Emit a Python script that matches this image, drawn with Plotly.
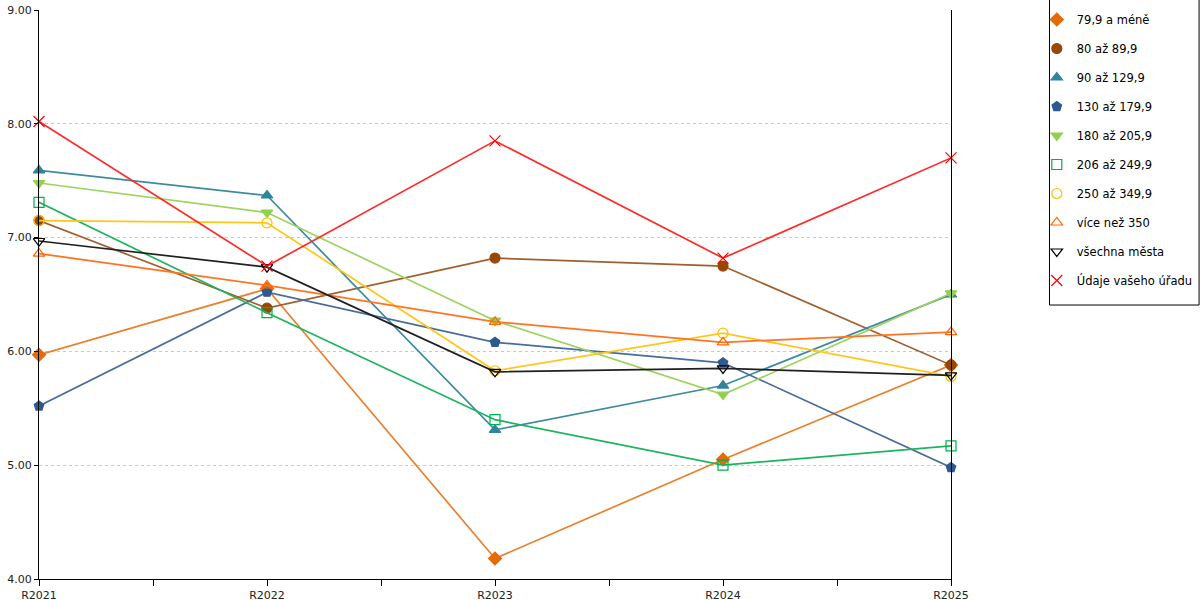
## import packages
import plotly.graph_objects as go


## data
years = ['R2021', 'R2022', 'R2023', 'R2024', 'R2025']

series_names = [
    '79,9 a méně', '80 až 89,9', '90 až 129,9', '130 až 179,9', '180 až 205,9',
    '206 až 249,9', '250 až 349,9', 'více než 350', 'všechna města', 'Údaje vašeho úřadu',
]

v_79 = [5.97, 6.55, 4.18, 5.05, 5.88]
v_80 = [7.15, 6.38, 6.82, 6.75, 5.88]
v_90 = [7.59, 7.37, 5.31, 5.70, 6.50]
v_130 = [5.52, 6.52, 6.08, 5.90, 4.98]
v_180 = [7.48, 7.22, 6.27, 5.62, 6.51]
v_206 = [7.31, 6.34, 5.40, 5.00, 5.17]
v_250 = [7.15, 7.13, 5.83, 6.16, 5.78]
v_350 = [6.86, 6.58, 6.26, 6.08, 6.17]
v_all = [6.97, 6.74, 5.82, 5.85, 5.79]
v_office = [8.02, 6.75, 7.85, 6.82, 7.70]

y_ticks = [4, 5, 6, 7, 8, 9]


## styles: (line color, marker color, symbol)
styles = [
    ('#E8822F', '#E36C09', 'diamond'),
    ('#A0602E', '#974706', 'circle'),
    ('#3E8AA0', '#31849B', 'triangle-up'),
    ('#4A6C9A', '#2F5A8E', 'pentagon'),
    ('#9ED25E', '#92D050', 'triangle-down'),
    ('#1DB45E', '#00B050', 'square-open'),
    ('#FFC61A', '#FFC000', 'circle-open'),
    ('#FF7420', '#FF6600', 'triangle-up-open'),
    ('#202020', '#000000', 'triangle-down-open'),
    ('#FF2A2A', '#FF0000', 'x-thin-open'),
]

all_values = [v_79, v_80, v_90, v_130, v_180, v_206, v_250, v_350, v_all, v_office]
x_pos = list(range(len(years)))


## chart
fig = go.Figure()

for i, (name, values) in enumerate(zip(series_names, all_values)):
    line_color, marker_color, symbol = styles[i]
    marker = dict(
        color=marker_color,
        symbol=symbol,
        size=10 if symbol != 'x-thin-open' else 11,
        line=dict(color=marker_color, width=1.2),
    )

    # the data line
    fig.add_trace(
        go.Scatter(
            x=x_pos,
            y=values,
            mode='lines+markers',
            name=name,
            showlegend=False,
            line=dict(color=line_color, width=1.7),
            marker=marker,
            cliponaxis=False,
        )
    )

    # legend entry: marker only
    fig.add_trace(
        go.Scatter(
            x=[None],
            y=[None],
            mode='markers',
            name=name,
            legendgroup=f'g{i}',
            marker=marker,
        )
    )

# legend frame
fig.add_shape(
    type='rect',
    xref='paper', yref='paper',
    x0=1.108, x1=1.272, y0=0.4815, y1=1.03,
    line=dict(color='black', width=1),
    fillcolor='rgba(0,0,0,0)',
    layer='below',
)

fig.update_layout(
    width=1200,
    height=600,
    paper_bgcolor='white',
    plot_bgcolor='white',
    font=dict(family='DejaVu Sans', size=12, color='#222222'),
    margin=dict(l=39, r=249, t=10, b=21, autoexpand=False),
    showlegend=True,
    legend=dict(
        xref='container',
        yref='container',
        x=0.864,
        y=0.9917,
        xanchor='left',
        yanchor='top',
        borderwidth=0,
        bgcolor='rgba(0,0,0,0)',
        traceorder='grouped',
        tracegroupgap=10,
        font=dict(family='DejaVu Sans', size=11.5, color='black'),
        itemwidth=30,
    ),
    xaxis=dict(
        range=[0, 4],
        tickvals=x_pos,
        ticktext=years,
        automargin=False,
        showgrid=False,
        zeroline=False,
        showline=True,
        linecolor='black',
        linewidth=1,
        ticks='outside',
        ticklen=6,
        tickcolor='black',
        tickfont=dict(size=11, color='#222222'),
        minor=dict(dtick=0.5, tick0=0, ticks='outside', ticklen=6, tickcolor='black', showgrid=False),
    ),
    yaxis=dict(
        range=[4, 9],
        tickvals=y_ticks,
        tickformat='.2f',
        automargin=False,
        showgrid=True,
        gridcolor='#C8C8C8',
        griddash='dot',
        gridwidth=1,
        zeroline=False,
        showline=True,
        mirror=True,
        linecolor='black',
        linewidth=1,
        ticks='outside',
        ticklen=4,
        tickcolor='black',
        tickfont=dict(size=11, color='#222222'),
    ),
)

# page body has a default margin, drop it so the figure fills the window
fig.write_html(
    "out.html",
    config={'displayModeBar': False},
    post_script="document.body.style.margin='0';",
)
